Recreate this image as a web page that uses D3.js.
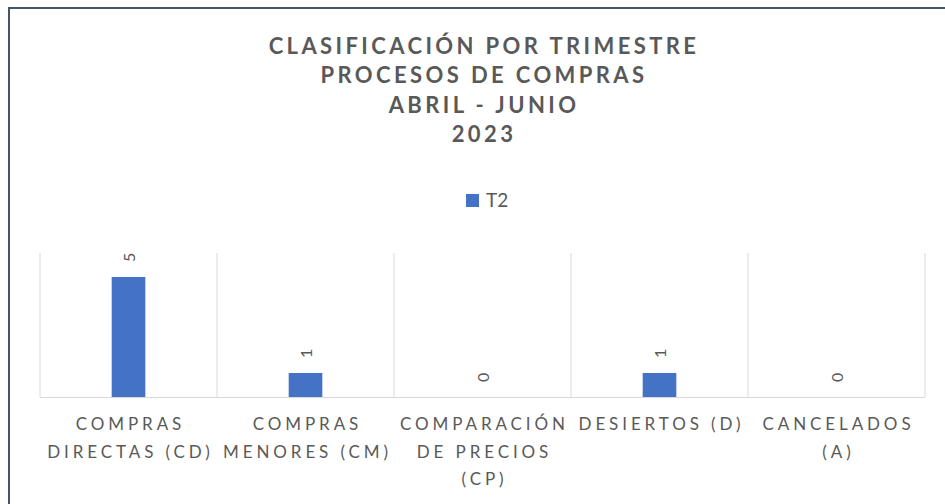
<!DOCTYPE html>
<html>
<head>
<meta charset="utf-8">
<script src="https://cdn.jsdelivr.net/npm/d3@7"></script>
<style>
  html, body { margin: 0; padding: 0; background: #fff; }
  svg { display: block; }
</style>
</head>
<body>
<svg id="chart" width="945" height="504"></svg>
<script>
// datos del grafico
const categories = ['CD', 'CM', 'CP', 'D', 'A'];
const tickLines = [
    ['COMPRAS', 'DIRECTAS (CD)'],
    ['COMPRAS', 'MENORES (CM)'],
    ['COMPARACIÓN', 'DE PRECIOS', '(CP)'],
    ['DESIERTOS (D)'],
    ['CANCELADOS', '(A)']
];
const valuesT2 = [5, 1, 0, 1, 0];
const titleLines = ['CLASIFICACIÓN POR TRIMESTRE', 'PROCESOS DE COMPRAS', 'ABRIL - JUNIO', '2023'];
const seriesName = 'T2';

const svg = d3.select('#chart');
const plot = { left: 40, right: 925, top: 253, bottom: 397 };
const textColor = '#595959';
const font = 'Lato, "Open Sans", sans-serif';

// marco exterior
svg.append('rect')
    .attr('x', 9).attr('y', 8)
    .attr('width', 980).attr('height', 540)
    .attr('fill', '#fff')
    .attr('stroke', '#44546a')
    .attr('stroke-width', 2);

// titulo
const title = svg.append('text')
    .attr('text-anchor', 'middle')
    .attr('font-family', font)
    .attr('font-weight', 700)
    .attr('font-size', 22)
    .attr('letter-spacing', 3.4)
    .attr('fill', textColor);
titleLines.forEach((t, i) => {
    title.append('tspan')
        .attr('x', 484)
        .attr('y', 53.5 + i * 29.5)
        .text(t);
});

// leyenda
const legend = svg.append('g').attr('transform', 'translate(466,194)');
legend.append('rect').attr('width', 13).attr('height', 13).attr('fill', '#4472c4');
legend.append('text')
    .attr('x', 20).attr('y', 13)
    .attr('font-family', font)
    .attr('font-size', 19)
    .attr('fill', textColor)
    .text(seriesName);

// escalas
const x = d3.scaleBand()
    .domain(categories)
    .range([plot.left, plot.right])
    .paddingInner(0).paddingOuter(0);
const y = d3.scaleLinear()
    .domain([0, 6])
    .range([plot.bottom, plot.top]);

// lineas de division verticales
const gridX = categories.map(c => x(c)).concat([plot.right]);
svg.append('g').selectAll('line')
    .data(gridX)
    .enter()
    .append('line')
    .attr('x1', d => d).attr('x2', d => d)
    .attr('y1', plot.top).attr('y2', plot.bottom)
    .attr('stroke', '#d9d9d9')
    .attr('stroke-width', 1);

// eje x
svg.append('line')
    .attr('x1', plot.left).attr('x2', plot.right)
    .attr('y1', plot.bottom + 0.5).attr('y2', plot.bottom + 0.5)
    .attr('stroke', '#d9d9d9')
    .attr('stroke-width', 1);

// barras
const barW = x.bandwidth() * 0.19;
svg.append('g').selectAll('rect')
    .data(valuesT2)
    .enter()
    .append('rect')
    .attr('x', (d, i) => x(categories[i]) + x.bandwidth() / 2 - barW / 2)
    .attr('y', d => y(d))
    .attr('width', barW)
    .attr('height', d => y(0) - y(d))
    .attr('fill', '#4472c4');

// etiquetas de datos (rotadas)
svg.append('g').selectAll('text')
    .data(valuesT2)
    .enter()
    .append('text')
    .attr('transform', (d, i) => {
        const cx = x(categories[i]) + x.bandwidth() / 2;
        return `translate(${cx},${y(d) - 15}) rotate(-90)`;
    })
    .attr('text-anchor', 'start')
    .attr('dominant-baseline', 'central')
    .attr('font-family', font)
    .attr('font-size', 16)
    .attr('fill', textColor)
    .text(d => d);

// etiquetas de categorias
const ticks = svg.append('g').selectAll('text')
    .data(tickLines)
    .enter()
    .append('text')
    .attr('text-anchor', 'middle')
    .attr('font-family', font)
    .attr('font-size', 17)
    .attr('letter-spacing', 3.9)
    .attr('fill', textColor);
ticks.each(function (lines, i) {
    const cx = x(categories[i]) + x.bandwidth() / 2;
    lines.forEach((t, j) => {
        d3.select(this).append('tspan')
            .attr('x', cx + 2)
            .attr('y', 430 + j * 27.5)
            .text(t);
    });
});
</script>
</body>
</html>
